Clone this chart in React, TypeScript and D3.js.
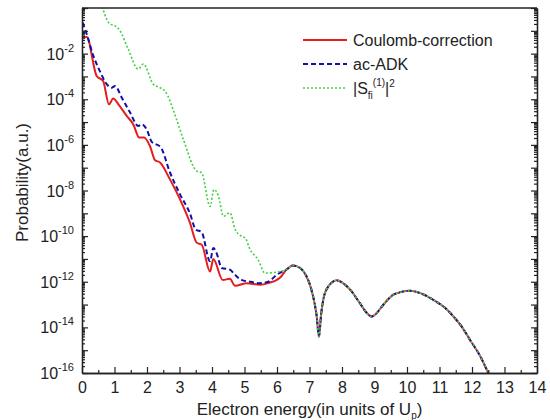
import React, { useEffect, useRef } from "react";
import * as d3 from "d3";

// energies in units of Up, probabilities in a.u.
const redE = [0.02, 0.145, 0.45, 0.65, 0.83, 0.96, 1.12, 1.375, 1.58, 1.76, 1.91, 2.09, 2.25, 2.4, 2.71, 3.02, 3.32, 3.53, 3.68, 3.94, 4.04, 4.33, 4.55, 4.71, 5.07, 5.48, 5.73, 6.09];
const redP = [5.1e-2, 5.4e-2, 1.05e-3, 6.3e-4, 6.0e-5, 1.07e-4, 6.0e-5, 1.86e-5, 7.9e-6, 2.1e-6, 2.1e-6, 8.9e-7, 2.1e-7, 1.7e-7, 3.0e-8, 4.0e-9, 3.9e-10, 5.1e-11, 4.3e-11, 2.8e-12, 1.0e-11, 1.2e-12, 1.35e-12, 6.6e-13, 8.7e-13, 7.4e-13, 8.7e-13, 1.5e-12];

const blueE = [0.02, 0.145, 0.35, 0.55, 0.76, 0.91, 1.02, 1.22, 1.48, 1.73, 1.84, 1.99, 2.14, 2.42, 2.71, 3.02, 3.32, 3.5, 3.68, 3.94, 4.04, 4.14, 4.3, 4.55, 4.71, 4.91, 5.17, 5.48, 5.73, 5.99];
const blueP = [2.3e-1, 7.2e-2, 7.9e-3, 1.7e-3, 4.6e-4, 3.2e-4, 3.8e-4, 1.2e-4, 2.6e-5, 6.8e-6, 7.9e-6, 4.8e-6, 1.4e-6, 7.9e-7, 6.0e-8, 6.6e-9, 1.0e-9, 1.95e-10, 1.5e-10, 7.9e-12, 3.0e-11, 1.8e-11, 4.0e-12, 3.4e-12, 2.0e-12, 1.2e-12, 1.0e-12, 8.7e-13, 1.0e-12, 2.0e-12];

const greenE = [0.55, 0.86, 1.02, 1.17, 1.42, 1.73, 1.89, 2.19, 2.4, 2.55, 2.91, 3.12, 3.53, 3.68, 3.94, 4.06, 4.2, 4.35, 4.55, 4.71, 4.91, 5.02, 5.17, 5.42, 5.63, 6.09];
const greenP = [2.5, 2.0e-1, 1.66e-1, 1.0e-1, 1.6e-2, 2.1e-3, 3.5e-3, 4.6e-4, 3.2e-4, 2.3e-4, 1.3e-5, 1.7e-6, 7.1e-8, 6.0e-8, 2.0e-9, 1.1e-8, 5.6e-9, 7.4e-10, 1.05e-9, 2.0e-10, 9.8e-11, 8.3e-11, 2.6e-11, 9.3e-12, 2.4e-12, 2.8e-12];

// high-energy part where all three curves coincide
const tailE = [6.3, 6.49, 6.71, 6.91, 7.05, 7.15, 7.22, 7.29, 7.36, 7.43, 7.58, 7.84, 8.05, 8.25, 8.55, 8.75, 8.91, 9.05, 9.27, 9.58, 9.8, 10.09, 10.45, 10.81, 11.15, 11.43, 11.7, 11.94, 12.25, 12.5, 12.6];
const tailP = [3.5e-12, 5.2e-12, 4.0e-12, 1.7e-12, 5.0e-13, 1.26e-13, 3.2e-14, 4.0e-15, 4.0e-14, 1.8e-13, 6.2e-13, 1.15e-12, 8.3e-13, 4.5e-13, 1.15e-13, 4.5e-14, 3.0e-14, 4.0e-14, 9.8e-14, 2.7e-13, 3.5e-13, 4.0e-13, 3.0e-13, 1.6e-13, 7.6e-14, 3.0e-14, 1.0e-14, 2.8e-15, 5.6e-16, 1.0e-16, 5.0e-17];

const xTicks = [0, 1, 2, 3, 4, 5, 6, 7, 8, 9, 10, 11, 12, 13, 14];
const yExponents = [-16, -14, -12, -10, -8, -6, -4, -2];

const FONT = "Arial, 'Liberation Sans', sans-serif";

const App = () => {
  const ref = useRef<SVGSVGElement>(null);

  useEffect(() => {
    const W = 550, H = 420;
    const margin = { top: 8, right: 13, bottom: 47, left: 82 };
    const width = W - margin.left - margin.right;
    const height = H - margin.top - margin.bottom;

    const root = d3.select(ref.current);
    root.selectAll("*").remove();
    const svg = root.append("g").attr("transform", `translate(${margin.left},${margin.top})`);

    const x = d3.scaleLinear().domain([0, 14]).range([0, width]);
    const y = d3.scaleLog().domain([1e-16, 1]).range([height, 0]);

    svg.append("defs").append("clipPath").attr("id", "plot-clip")
      .append("rect").attr("width", width).attr("height", height);

    const zip = (es: number[], ps: number[]) => es.map((e, i) => ({ e, p: ps[i] }));
    const series = [
      { data: zip(redE, redP).concat(zip(tailE, tailP)), color: "#e41d1d", width: 2, dash: null },
      { data: zip(blueE, blueP).concat(zip(tailE, tailP)), color: "#1010a8", width: 2, dash: "5,3" },
      { data: zip(greenE, greenP).concat(zip(tailE, tailP)), color: "#44d044", width: 1.6, dash: "2,2" },
    ];

    const line = d3.line<{ e: number; p: number }>()
      .x((d) => x(d.e))
      .y((d) => y(d.p))
      .curve(d3.curveMonotoneX);

    const plot = svg.append("g").attr("clip-path", "url(#plot-clip)");
    series.forEach((s) => {
      plot.append("path")
        .datum(s.data)
        .attr("fill", "none")
        .attr("stroke", s.color)
        .attr("stroke-width", s.width)
        .attr("stroke-dasharray", s.dash)
        .attr("d", line);
    });

    // axes (ticks point inward)
    const decades = d3.range(-16, 1).map((k) => Math.pow(10, k));
    const minors: number[] = [];
    for (let k = -16; k < 0; k++) for (let m = 2; m <= 9; m++) minors.push(m * Math.pow(10, k));

    const styleAxis = (g: any) => {
      g.selectAll("path").attr("stroke", "#222").attr("stroke-width", 1.3);
      g.selectAll("line").attr("stroke", "#222").attr("stroke-width", 1.2);
    };

    svg.append("g").attr("transform", `translate(0,${height})`)
      .call(d3.axisBottom(x).tickValues(xTicks).tickSize(-6).tickSizeOuter(0).tickPadding(9))
      .call(styleAxis)
      .call((g: any) => g.selectAll("text").attr("font-family", FONT).attr("font-size", 16).attr("fill", "#222"));
    svg.append("g").attr("transform", `translate(0,${height})`)
      .call(d3.axisBottom(x).tickValues(d3.range(0.5, 14, 1)).tickSize(-3).tickSizeOuter(0).tickFormat(() => ""))
      .call(styleAxis);

    svg.append("g")
      .call(d3.axisLeft(y).tickValues(decades).tickSize(-6).tickSizeOuter(0).tickFormat(() => ""))
      .call(styleAxis);
    svg.append("g")
      .call(d3.axisLeft(y).tickValues(minors).tickSize(-3).tickSizeOuter(0).tickFormat(() => ""))
      .call(styleAxis);
    svg.append("g").attr("transform", `translate(${width},0)`)
      .call(d3.axisRight(y).tickValues(decades).tickSize(-6).tickSizeOuter(0).tickFormat(() => ""))
      .call(styleAxis);
    svg.append("g").attr("transform", `translate(${width},0)`)
      .call(d3.axisRight(y).tickValues(minors).tickSize(-3).tickSizeOuter(0).tickFormat(() => ""))
      .call(styleAxis);
    svg.append("line").attr("x1", 0).attr("x2", width).attr("y1", 0).attr("y2", 0)
      .attr("stroke", "#222").attr("stroke-width", 1.3);

    // y tick labels 10^k
    yExponents.forEach((k) => {
      const t = svg.append("text")
        .attr("x", -8).attr("y", y(Math.pow(10, k)) + 6)
        .attr("text-anchor", "end")
        .attr("font-family", FONT).attr("fill", "#222");
      t.append("tspan").attr("font-size", 16).text("10");
      t.append("tspan").attr("font-size", 11).attr("dy", -8).text(String(k));
    });

    // axis titles
    const xt = svg.append("text")
      .attr("x", width / 2).attr("y", height + 42)
      .attr("text-anchor", "middle")
      .attr("font-family", FONT).attr("font-size", 17).attr("fill", "#222");
    xt.append("tspan").text("Electron energy(in units of U");
    xt.append("tspan").attr("font-size", 10).attr("dy", 4).text("p");
    xt.append("tspan").attr("dy", -4).text(")");

    svg.append("text")
      .attr("transform", `translate(${22 - margin.left},${height / 2 - 8}) rotate(-90)`)
      .attr("text-anchor", "middle").attr("dy", 6)
      .attr("font-family", FONT).attr("font-size", 17).attr("fill", "#222")
      .text("Probability(a.u.)");

    // legend
    const lx = 303 - margin.left, ly = 40 - margin.top;
    series.forEach((s, i) => {
      const yy = ly + i * 24;
      svg.append("line")
        .attr("x1", lx).attr("x2", lx + 44).attr("y1", yy).attr("y2", yy)
        .attr("stroke", s.color).attr("stroke-width", s.width)
        .attr("stroke-dasharray", s.dash);
      const t = svg.append("text")
        .attr("x", lx + 50).attr("y", yy + 6)
        .attr("font-family", FONT).attr("font-size", 16).attr("fill", "#222");
      if (i === 0) t.text("Coulomb-correction");
      else if (i === 1) t.text("ac-ADK");
      else {
        t.append("tspan").text("|S");
        t.append("tspan").attr("font-size", 10).attr("dy", 5).text("fi");
        t.append("tspan").attr("font-size", 10).attr("dy", -13).text("(1)");
        t.append("tspan").attr("dy", 8).text("|");
        t.append("tspan").attr("font-size", 10).attr("dy", -7).text("2");
      }
    });
  }, []);

  return (
    <svg
      ref={ref}
      width={550}
      height={420}
      style={{ position: "absolute", left: 0, top: 0, background: "#fff" }}
    />
  );
};

export default App;
